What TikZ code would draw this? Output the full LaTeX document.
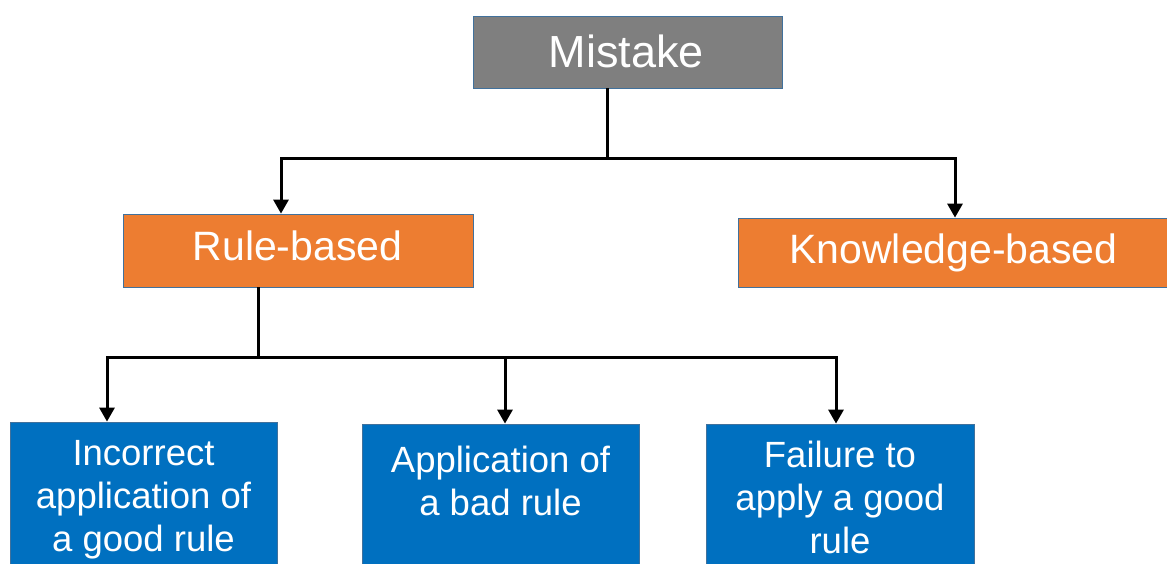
\documentclass[tikz,border=0pt]{standalone}
\usepackage{fontspec}
\setmainfont{Liberation Sans}
\usetikzlibrary{arrows.meta}
\definecolor{mgray}{HTML}{7F7F7F}
\definecolor{morange}{HTML}{ED7D31}
\definecolor{mblue}{HTML}{0070C0}
\definecolor{medge}{HTML}{41719C}

\begin{document}
\begin{tikzpicture}[x=1pt,y=-1pt,
  box/.style={rectangle, draw=medge, line width=0.8pt, inner sep=0pt},
  lbl/.style={text=white, inner sep=0pt, anchor=base},
  link/.style={line width=3pt},
  arr/.style={line width=3pt, -{Triangle[width=15pt,length=14pt]}}]
\useasboundingbox (0,0) rectangle (1167,563);

% top level
\node[box, fill=mgray, minimum width=309pt, minimum height=72pt] (mistake) at (627.5,52) {};
\node[lbl, font=\fontsize{45}{54}\selectfont] (tmistake) at (626.5,67) {Mistake};

% second level
\node[box, fill=morange, minimum width=350pt, minimum height=73pt] (rule) at (298,250.5) {};
\node[lbl, font=\fontsize{41}{49}\selectfont] (trule) at (297.5,260) {Rule-based};
\node[box, fill=morange, minimum width=434pt, minimum height=69pt] (know) at (955,252.5) {};
\node[lbl, font=\fontsize{41}{49}\selectfont] (tknow) at (953.5,263) {Knowledge-based};

% third level
\node[box, fill=mblue, minimum width=267pt, minimum height=148pt] (b1) at (143.5,496) {};
\node[box, fill=mblue, minimum width=277pt, minimum height=146pt] (b2) at (500.5,497) {};
\node[box, fill=mblue, minimum width=268pt, minimum height=146pt] (b3) at (840,497) {};
\node[lbl, font=\fontsize{36.5}{43}\selectfont] (t1) at (143.5,465)
  {\begin{tabular}[t]{@{}c@{}}Incorrect\\application of\\a good rule\end{tabular}};
\node[lbl, font=\fontsize{36.5}{43}\selectfont] (t2) at (500.5,472)
  {\begin{tabular}[t]{@{}c@{}}Application of\\a bad rule\end{tabular}};
\node[lbl, font=\fontsize{36.5}{43}\selectfont] (t3) at (840,467)
  {\begin{tabular}[t]{@{}c@{}}Failure to\\apply a good\\rule\end{tabular}};

% connectors
\coordinate (j1) at (607,158);
\draw[link] (mistake.south -| j1) -- (j1);
\draw[arr] (j1) -| ([xshift=-17pt]rule.north);
\draw[arr] (j1) -| (know.north);

\coordinate (j2) at (258,357);
\draw[link] (rule.south -| j2) -- (j2);
\draw[arr] (j2) -| ([xshift=-36.5pt]b1.north);
\draw[arr] (j2) -| ([xshift=4.5pt]b2.north);
\draw[arr] (j2) -| ([xshift=-4pt]b3.north);
\end{tikzpicture}
\end{document}
